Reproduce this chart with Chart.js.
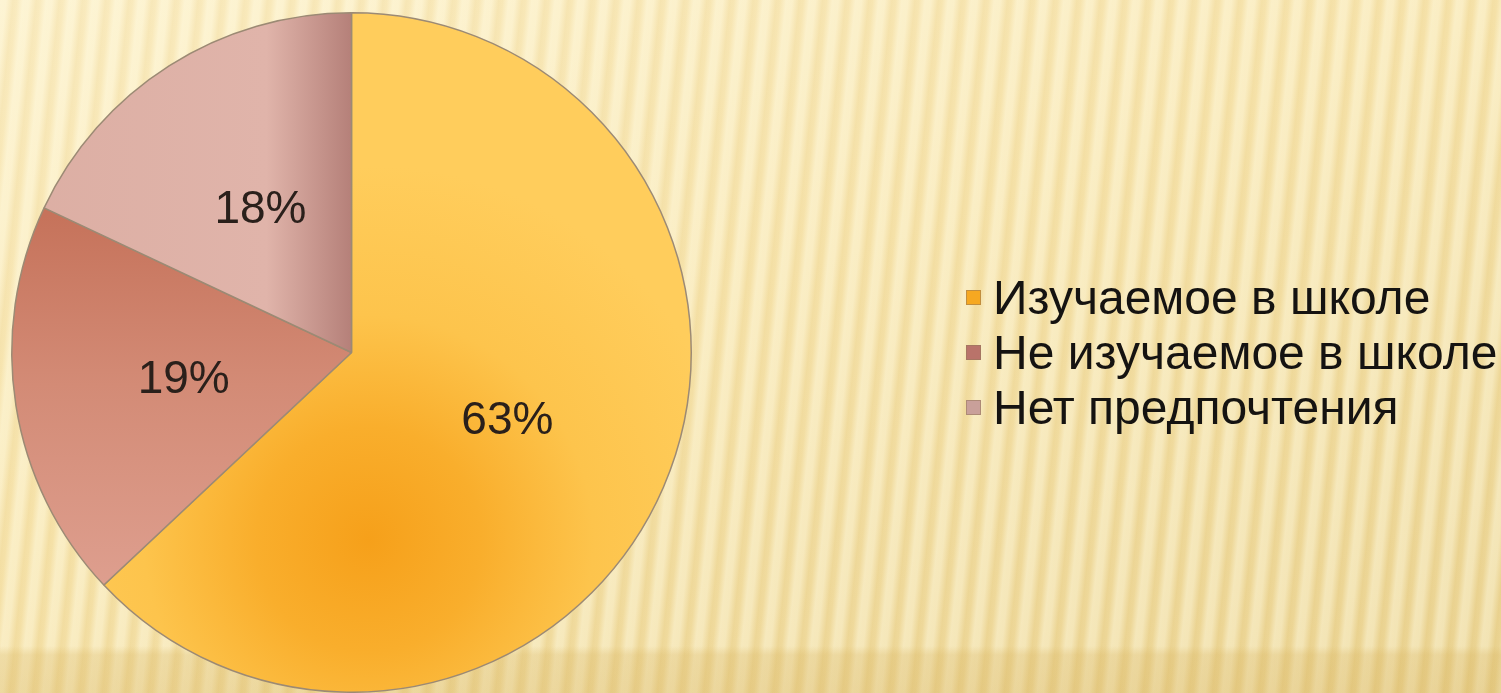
<!DOCTYPE html>
<html>
<head>
<meta charset="utf-8">
<script src="https://cdn.jsdelivr.net/npm/chart.js@4/dist/chart.umd.min.js"></script>
<style>
  html, body { margin: 0; padding: 0; }
  body {
    width: 1501px; height: 693px; overflow: hidden; position: relative;
    background:
      linear-gradient(to bottom, rgba(0,0,0,0) 0, rgba(0,0,0,0) 646px, rgba(214,178,92,0.28) 655px, rgba(214,178,92,0.32) 100%),
      repeating-linear-gradient(96deg, rgba(255,252,232,0.42) 0px, rgba(255,252,232,0.38) 6px, rgba(212,176,92,0.10) 13px, rgba(232,205,140,0.12) 17px, rgba(255,252,232,0.42) 23px),
      linear-gradient(160deg, #FCEFC6 0%, #F7E4AC 45%, #EAD391 100%);
    font-family: "Liberation Sans", Arial, sans-serif;
  }
  #wrap { position: absolute; left: 0; top: 0; width: 1501px; height: 693px; }
  #legend { position: absolute; left: 966px; top: 270px; }
  .item { display: flex; align-items: center; height: 55px; font-size: 48px; color: #151311; white-space: nowrap; }
  .box { width: 13px; height: 13px; margin-right: 12px; border: 1.5px solid rgba(150,120,90,0.55); }
</style>
</head>
<body>
<div id="wrap"><canvas id="pie"></canvas></div>
<div id="legend"></div>
<script>
const labels = ['Изучаемое в школе', 'Не изучаемое в школе', 'Нет предпочтения'];
const values = [63, 19, 18];
const swatches = ['#F6A821', '#B9736A', '#C9A09A'];

function sliceFill(context) {
  const chart = context.chart;
  const area = chart.chartArea;
  if (!area) return swatches[context.dataIndex];
  const ctx = chart.ctx;
  const cx = (area.left + area.right) / 2;
  const cy = (area.top + area.bottom) / 2;
  const r = Math.min(area.width, area.height) / 2;
  let g;
  if (context.dataIndex === 0) {
    g = ctx.createRadialGradient(cx + 0.05 * r, cy + 0.55 * r, 0, cx + 0.05 * r, cy + 0.55 * r, 1.1 * r);
    g.addColorStop(0, '#F6A01A');
    g.addColorStop(0.3, '#F9AE2C');
    g.addColorStop(0.6, '#FDC44C');
    g.addColorStop(1, '#FFCD5C');
  } else if (context.dataIndex === 1) {
    g = ctx.createLinearGradient(0, cy - 0.4 * r, 0, cy + 0.7 * r);
    g.addColorStop(0, '#C6735B');
    g.addColorStop(0.45, '#D38B76');
    g.addColorStop(1, '#DE9F8F');
  } else {
    g = ctx.createLinearGradient(cx - r, 0, cx, 0);
    g.addColorStop(0, '#DCAEA3');
    g.addColorStop(0.75, '#E0B4AA');
    g.addColorStop(1, '#B58079');
  }
  return g;
}

const percentLabels = {
  id: 'percentLabels',
  afterDatasetsDraw(chart) {
    const ctx = chart.ctx;
    ctx.save();
    ctx.font = '46px "Liberation Sans", Arial, sans-serif';
    ctx.fillStyle = '#2A201B';
    ctx.textAlign = 'center';
    ctx.textBaseline = 'middle';
    chart.getDatasetMeta(0).data.forEach((arc, i) => {
      const p = arc.tooltipPosition();
      ctx.fillText(values[i] + '%', p.x, p.y + 1);
    });
    ctx.restore();
  }
};

const canvas = document.getElementById('pie');
canvas.width = 1501;
canvas.height = 693;
new Chart(canvas, {
  type: 'pie',
  data: {
    labels: labels,
    datasets: [{
      data: values,
      backgroundColor: sliceFill,
      borderColor: '#9C8A74',
      borderWidth: 1.5
    }]
  },
  options: {
    responsive: false,
    animation: false,
    layout: { padding: { left: 11, right: 809, top: 12, bottom: 0 } },
    plugins: {
      legend: { display: false },
      tooltip: { enabled: false }
    }
  },
  plugins: [percentLabels]
});

const legend = document.getElementById('legend');
labels.forEach((name, i) => {
  const row = document.createElement('div');
  row.className = 'item';
  row.innerHTML = '<span class="box" style="background:' + swatches[i] + '"></span>' + name;
  legend.appendChild(row);
});
</script>
</body>
</html>
